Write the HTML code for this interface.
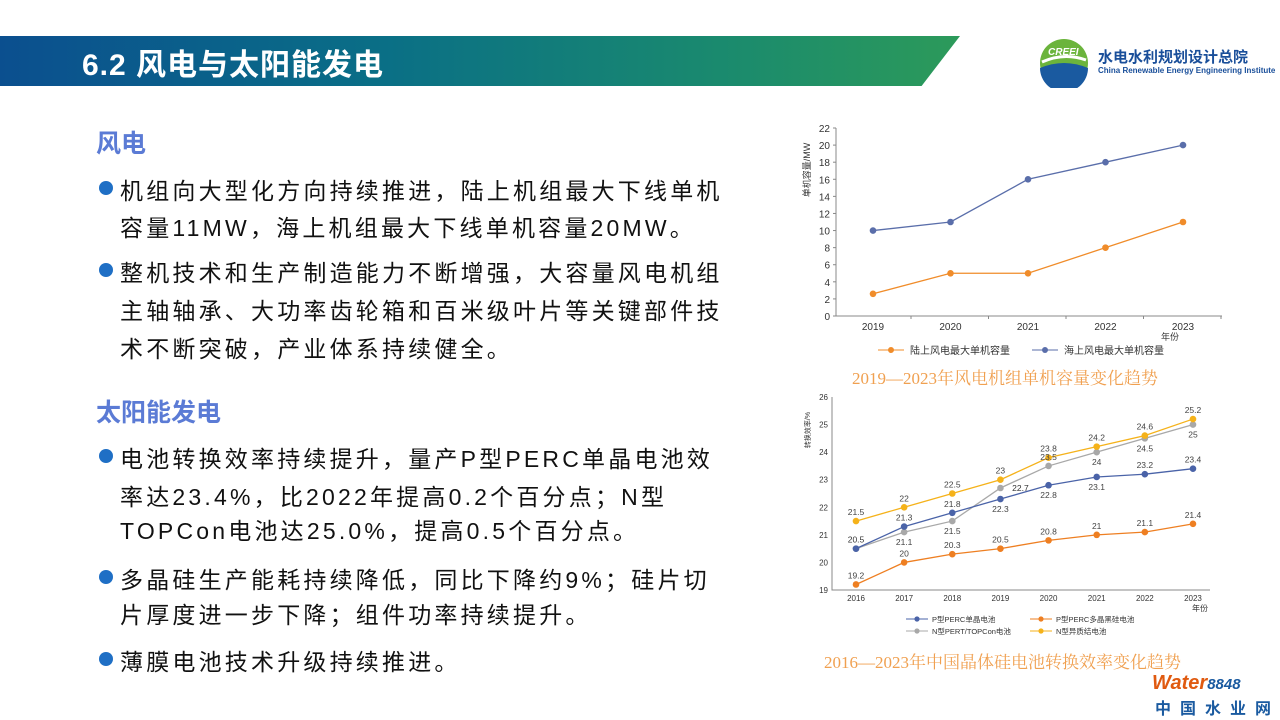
<!DOCTYPE html>
<html><head><meta charset="utf-8"><style>
body{margin:0;width:1280px;height:720px;overflow:hidden;background:#fff;position:relative;font-family:"Liberation Sans","Noto Sans CJK SC",sans-serif}
.bar{position:absolute;left:0;top:36px;width:960px;height:50px;background:linear-gradient(90deg,#0b4f8f 0%,#0a6f86 40%,#1a8a6e 75%,#2c9a5a 100%);clip-path:polygon(0 0,100% 0,96% 100%,0 100%)}
.title{position:absolute;left:82px;top:40px;color:#fff;font-size:30px;font-weight:bold;letter-spacing:1px}
.h{position:absolute;left:96px;color:#5b7bd5;font-size:25px;font-weight:bold}
.l{position:absolute;left:120px;font-size:23px;letter-spacing:3.2px;color:#111;white-space:nowrap}
.d{position:absolute;left:99px;width:14px;height:14px;border-radius:50%;background:#1f6fc5}
.cap{position:absolute;font-family:"Liberation Serif","Noto Serif CJK SC",serif;color:#f0a050;font-size:17px;white-space:nowrap}
</style></head><body>
<div class="bar"></div>
<div class="title">6.2 风电与太阳能发电</div>
<svg style="position:absolute;left:1038px;top:38px" width="56" height="50"><circle cx="26" cy="25" r="24" fill="#6bb43c"/><path d="M2 30 Q26 20 50 30 A24 24 0 0 1 2 30Z" fill="#1a5aa0"/><path d="M4 24 Q26 14 48 22" stroke="#fff" stroke-width="3" fill="none"/><text x="10" y="17" font-size="10" font-style="italic" font-weight="bold" fill="#fff">CREEI</text></svg>
<div style="position:absolute;left:1098px;top:46px;font-size:15px;font-weight:bold;color:#1a4f9a">水电水利规划设计总院</div>
<div style="position:absolute;left:1098px;top:66px;font-size:8px;color:#1a4f9a;font-weight:bold">China Renewable Energy Engineering Institute</div>

<div class="h" style="top:124px">风电</div>
<div class="d" style="top:181px"></div><div class="l" style="top:172px">机组向大型化方向持续推进，陆上机组最大下线单机</div>
<div class="l" style="top:209px">容量11MW，海上机组最大下线单机容量20MW。</div>
<div class="d" style="top:263px"></div><div class="l" style="top:254px">整机技术和生产制造能力不断增强，大容量风电机组</div>
<div class="l" style="top:292px">主轴轴承、大功率齿轮箱和百米级叶片等关键部件技</div>
<div class="l" style="top:330px">术不断突破，产业体系持续健全。</div>
<div class="h" style="top:393px">太阳能发电</div>
<div class="d" style="top:449px"></div><div class="l" style="top:440px">电池转换效率持续提升，量产P型PERC单晶电池效</div>
<div class="l" style="top:478px">率达23.4%，比2022年提高0.2个百分点；N型</div>
<div class="l" style="top:512px">TOPCon电池达25.0%，提高0.5个百分点。</div>
<div class="d" style="top:570px"></div><div class="l" style="top:561px">多晶硅生产能耗持续降低，同比下降约9%；硅片切</div>
<div class="l" style="top:596px">片厚度进一步下降；组件功率持续提升。</div>
<div class="d" style="top:652px"></div><div class="l" style="top:643px">薄膜电池技术升级持续推进。</div>

<svg id="c" style="position:absolute;left:0;top:0" width="1280" height="720" font-family="Liberation Sans, Noto Sans CJK SC, sans-serif"></svg>
<div class="cap" style="left:852px;top:364px">2019—2023年风电机组单机容量变化趋势</div>
<div class="cap" style="left:824px;top:648px">2016—2023年中国晶体硅电池转换效率变化趋势</div>
<div style="position:absolute;left:1152px;top:672px;font-size:20px;font-weight:bold;font-style:italic;color:#e05a10">Water<span style="color:#1a5aa0;font-size:15px">8848</span></div>
<div style="position:absolute;left:1155px;top:695px;font-size:16px;font-weight:bold;color:#1a5aa0;letter-spacing:9px">中国水业网</div>
<script>
var s='',svg=document.getElementById('c');
function t(x,y,str,sz,a,c){s+='<text x="'+x+'" y="'+y+'" font-size="'+sz+'" text-anchor="'+(a||'middle')+'" fill="'+(c||'#333')+'">'+str+'</text>';}
var X0=836,Y0=316,k=8.545;
s+='<path d="M836 128V316H1222" stroke="#888" fill="none"/>';
for(var v=0;v<=22;v+=2){var y=Y0-k*v;t(830,y+4,v,10,'end');s+='<line x1="833" x2="836" y1="'+y+'" y2="'+y+'" stroke="#888"/>';}
for(var i=0;i<5;i++){t(873+77.5*i,330,2019+i,10);s+='<line x1="'+(911+77.5*i)+'" x2="'+(911+77.5*i)+'" y1="316" y2="319" stroke="#888"/>';}
t(1170,340,'年份',9);
s+='<text transform="translate(810,170) rotate(-90)" font-size="9" text-anchor="middle" fill="#333">单机容量/MW</text>';
function ser(xs,ys,c){var p='';for(var i=0;i<xs.length;i++)p+=(i?'L':'M')+xs[i]+' '+ys[i];s+='<path d="'+p+'" stroke="'+c+'" stroke-width="1.3" fill="none"/>';for(i=0;i<xs.length;i++)s+='<circle cx="'+xs[i]+'" cy="'+ys[i]+'" r="3.3" fill="'+c+'"/>';}
var xs=[0,1,2,3,4].map(function(i){return 873+77.5*i});
ser(xs,[10,11,16,18,20].map(function(v){return Y0-k*v}),'#5a6eaa');
ser(xs,[2.6,5,5,8,11].map(function(v){return Y0-k*v}),'#f08c2a');
s+='<line x1="878" x2="904" y1="350" y2="350" stroke="#f08c2a"/><circle cx="891" cy="350" r="3" fill="#f08c2a"/>';t(910,354,'陆上风电最大单机容量',10,'start');
s+='<line x1="1032" x2="1058" y1="350" y2="350" stroke="#5a6eaa"/><circle cx="1045" cy="350" r="3" fill="#5a6eaa"/>';t(1064,354,'海上风电最大单机容量',10,'start');
var Y1=590,q=27.57;function Y(v){return Y1-q*(v-19)}
s+='<path d="M832 397V590H1210" stroke="#888" fill="none"/>';
for(v=19;v<=26;v++){t(828,Y(v)+3,v,8,'end');}
var x2=[];for(i=0;i<8;i++){x2.push(856+48.14*i);t(856+48.14*i,601,2016+i,8);}
t(1200,611,'年份',8);
s+='<text transform="translate(810,430) rotate(-90)" font-size="7" text-anchor="middle" fill="#333">转换效率/%</text>';
var B=[20.5,21.3,21.8,22.3,22.8,23.1,23.2,23.4],O=[19.2,20,20.3,20.5,20.8,21,21.1,21.4],G=[20.5,21.1,21.5,22.7,23.5,24,24.5,25],H=[21.5,22,22.5,23,23.8,24.2,24.6,25.2];
ser(x2,O.map(Y),'#ee7f22');ser(x2,G.map(Y),'#a8a8a8');ser(x2,B.map(Y),'#4a63a8');ser(x2,H.map(Y),'#f5b21a');
var L='#444';
for(i=0;i<8;i++){t(x2[i],Y(H[i])-6,H[i],8.5,'middle',L);t(x2[i],Y(O[i])-6,O[i],8.5,'middle',L);}
t(x2[0],Y(20.5)-6,'20.5',8.5);
[[1,-6],[2,-6],[3,13],[4,13],[5,13],[6,-6],[7,-6]].forEach(function(a){t(x2[a[0]],Y(B[a[0]])+a[1],B[a[0]],8.5,'middle',L)});
[[1,13],[2,13],[4,-6],[5,13],[6,13],[7,13]].forEach(function(a){t(x2[a[0]],Y(G[a[0]])+a[1],G[a[0]],8.5,'middle',L)});
t(x2[3]+20,Y(22.7)+3,'22.7',8.5);
function lg(x,y,c,str){s+='<line x1="'+x+'" x2="'+(x+22)+'" y1="'+y+'" y2="'+y+'" stroke="'+c+'"/><circle cx="'+(x+11)+'" cy="'+y+'" r="2.6" fill="'+c+'"/>';t(x+26,y+3,str,7.5,'start');}
lg(906,619,'#4a63a8','P型PERC单晶电池');lg(1030,619,'#ee7f22','P型PERC多晶黑硅电池');
lg(906,631,'#a8a8a8','N型PERT/TOPCon电池');lg(1030,631,'#f5b21a','N型异质结电池');
svg.innerHTML=s;
</script>
</body></html>
